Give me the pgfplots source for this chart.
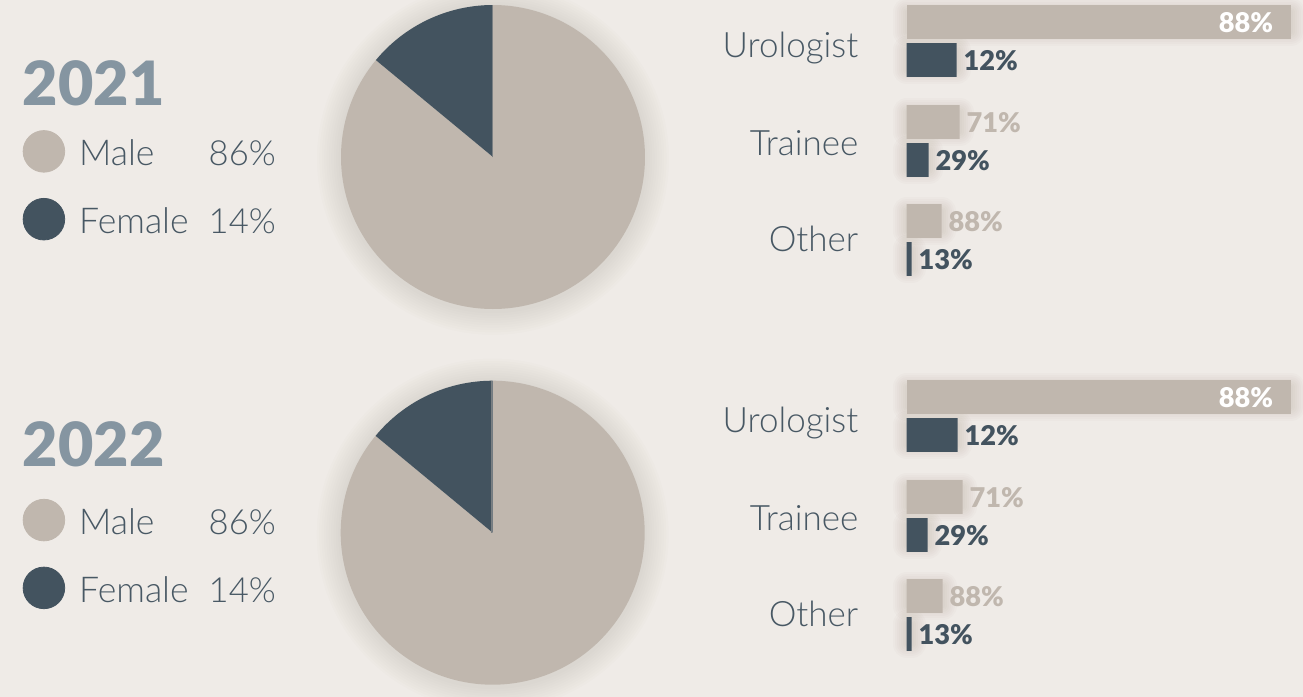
\documentclass[border=0pt]{standalone}
\usepackage{pgfplots}
\pgfplotsset{compat=1.18}
\usepackage{pgfplotstable}
\usepackage{fontspec}
\setmainfont{Lato}
\newfontfamily\lightfont{Lato Light}
\newfontfamily\heavyfont{Lato Black}

\definecolor{bg}{RGB}{239,235,231}
\definecolor{male}{RGB}{192,183,174}
\definecolor{female}{RGB}{67,83,95}
\definecolor{yearc}{RGB}{133,149,161}
\definecolor{txt}{RGB}{72,88,100}
\definecolor{shad}{RGB}{90,72,56}

% 2021
\pgfplotstableread{
y len pct
22 384 88
122 53 71
221 35 88
}\maleA
\pgfplotstableread{
y len pct
60 50 12
160 22 29
259 5 13
}\femaleA
% 2022
\pgfplotstableread{
y len pct
22 384 88
122 56 71
221 36 88
}\maleB
\pgfplotstableread{
y len pct
60 51 12
160 21 29
259 5 13
}\femaleB

\pgfplotsset{
  pieax/.style={
    scale only axis, width=152pt, height=152pt,
    xmin=-1, xmax=1, ymin=-1, ymax=1, hide axis, clip=false, anchor=center,
    legend style={draw=none, fill=none, anchor=west, inner sep=0pt, outer sep=0pt,
      row sep=12.7pt, column sep=7pt, cells={anchor=west},
      nodes={inner sep=0pt, text=txt, font=\lightfont\fontsize{17.8}{20}\selectfont}},
  },
  barax/.style={
    scale only axis, width=192pt, height=145pt, anchor=north west,
    xmin=0, xmax=384, ymin=0, ymax=290, y dir=reverse,
    axis line style={draw=none}, major tick length=0pt, xtick=\empty,
    ytick={44.5,142.5,239}, yticklabels={Urologist,Trainee,Other}, ytick pos=left,
    yticklabel style={font=\lightfont\fontsize{17.5}{20}\selectfont, text=txt,
      anchor=east, inner sep=0pt, text height=12.5pt, text depth=0pt, xshift=-24pt},
    xbar, clip=false,
    /pgf/number format/assume math mode=true,
  },
  valstyle/.style={nodes near coords={\pgfmathprintnumber{\pgfplotspointmeta}\%},
    every node near coord/.append style={font=\heavyfont\fontsize{13.6}{16}\selectfont,
      inner sep=0pt, text height=9.7pt, text depth=0pt, anchor=west, xshift=3.2pt, yshift=-0.4pt}},
  shadowbar/.style={xbar, bar shift=0pt, fill=none, draw=shad, draw opacity=0.018,
      line width=#1, line join=round, forget plot},
}

\newcommand\fem{14}
\newcommand\legtext[2]{\raisebox{-1.8pt}[12.4pt][0pt]{\makebox[64.8pt][l]{#1}{\fontsize{17.3}{20}\selectfont #2}}}

\begin{document}
\begin{tikzpicture}
\fill[bg] (0pt,0pt) rectangle (651.5pt,-348.5pt);

% ---------------- 2021 ----------------
\node[anchor=base west, inner sep=0pt, font=\heavyfont\fontsize{30.5}{36}\selectfont, text=yearc]
  at (11.3pt,-52.5pt) {2021};

\begin{axis}[pieax, at={(246.5pt,-78.5pt)}, legend style={at={(-1.047,0.407)}}]
  \pgfplotsinvokeforeach{1,...,10}{%
    \fill[shad, opacity=0.012] (axis cs:0,-0.012) circle[radius=76pt+#1*1.2pt];}
  \fill[male] (axis cs:0,0) -- ++(90+\fem*3.6:76pt)
     arc[start angle=90+\fem*3.6, delta angle=(100-\fem)*3.6, radius=76pt] -- cycle;
  \fill[female] (axis cs:0,0) -- ++(90:76pt)
     arc[start angle=90, delta angle=\fem*3.6, radius=76pt] -- cycle;
  \draw[female!55!male, line width=0.5pt] (axis cs:-0.006,0) -- (axis cs:-0.006,1);
  \addlegendimage{legend image code/.code={\fill[male] (0pt,0pt) circle (10.4pt);}}
  \addlegendentry{\legtext{Male}{86\%}}
  \addlegendimage{legend image code/.code={\fill[female] (0pt,0pt) circle (10.4pt);}}
  \addlegendentry{\legtext{Female}{14\%}}
\end{axis}

\begin{axis}[barax, at={(453.35pt,0pt)}]
  \pgfplotsinvokeforeach{2,4,...,14}{%
    \addplot[shadowbar=#1pt] table[x=len,y=y]{\maleA};
    \addplot[shadowbar=#1pt] table[x=len,y=y]{\femaleA};
  }
  \addplot[xbar, bar shift=0pt, bar width=33.7, fill=male, draw=none, point meta=explicit,
    valstyle, skip coords between index={1}{3},
    every node near coord/.append style={anchor=east, text=white, xshift=-11.8pt}]
    table[x=len,y=y,meta=pct]{\maleA};
  \addplot[xbar, bar shift=0pt, bar width=33.7, fill=male, draw=none, point meta=explicit,
    valstyle, skip coords between index={0}{1},
    every node near coord/.append style={text=male}]
    table[x=len,y=y,meta=pct]{\maleA};
  \addplot[xbar, bar shift=0pt, bar width=33.7, fill=female, draw=none, point meta=explicit,
    valstyle, every node near coord/.append style={text=female}]
    table[x=len,y=y,meta=pct]{\femaleA};
\end{axis}

% ---------------- 2022 ----------------
\node[anchor=base west, inner sep=0pt, font=\heavyfont\fontsize{30.5}{36}\selectfont, text=yearc]
  at (11.3pt,-233pt) {2022};

\begin{axis}[pieax, at={(246.35pt,-266.35pt)}, legend style={at={(-1.046,0.43)}}]
  \pgfplotsinvokeforeach{1,...,10}{%
    \fill[shad, opacity=0.012] (axis cs:0,-0.012) circle[radius=76pt+#1*1.2pt];}
  \fill[male] (axis cs:0,0) -- ++(90+\fem*3.6:76pt)
     arc[start angle=90+\fem*3.6, delta angle=(100-\fem)*3.6, radius=76pt] -- cycle;
  \fill[female] (axis cs:0,0) -- ++(90:76pt)
     arc[start angle=90, delta angle=\fem*3.6, radius=76pt] -- cycle;
  \draw[female!55!male, line width=0.5pt] (axis cs:-0.006,0) -- (axis cs:-0.006,1);
  \addlegendimage{legend image code/.code={\fill[male] (0pt,0pt) circle (10.4pt);}}
  \addlegendentry{\legtext{Male}{86\%}}
  \addlegendimage{legend image code/.code={\fill[female] (0pt,0pt) circle (10.4pt);}}
  \addlegendentry{\legtext{Female}{14\%}}
\end{axis}

\begin{axis}[barax, at={(453.35pt,-187.5pt)}]
  \pgfplotsinvokeforeach{2,4,...,14}{%
    \addplot[shadowbar=#1pt] table[x=len,y=y]{\maleB};
    \addplot[shadowbar=#1pt] table[x=len,y=y]{\femaleB};
  }
  \addplot[xbar, bar shift=0pt, bar width=33.7, fill=male, draw=none, point meta=explicit,
    valstyle, skip coords between index={1}{3},
    every node near coord/.append style={anchor=east, text=white, xshift=-11.8pt}]
    table[x=len,y=y,meta=pct]{\maleB};
  \addplot[xbar, bar shift=0pt, bar width=33.7, fill=male, draw=none, point meta=explicit,
    valstyle, skip coords between index={0}{1},
    every node near coord/.append style={text=male}]
    table[x=len,y=y,meta=pct]{\maleB};
  \addplot[xbar, bar shift=0pt, bar width=33.7, fill=female, draw=none, point meta=explicit,
    valstyle, every node near coord/.append style={text=female}]
    table[x=len,y=y,meta=pct]{\femaleB};
\end{axis}

\pgfresetboundingbox
\useasboundingbox (0pt,0pt) rectangle (651.5pt,-348.5pt);
\end{tikzpicture}
\end{document}
